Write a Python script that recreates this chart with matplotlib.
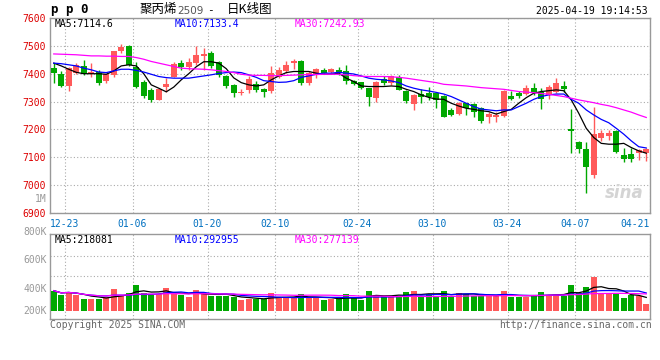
import matplotlib
matplotlib.use('Agg')
import matplotlib.pyplot as plt
import numpy as np
import pandas as pd

# ---- data (pp0, daily K) ----
opens = [7422, 7399, 7356, 7404, 7428, 7398, 7407, 7375, 7396, 7480,
         7501, 7425, 7371, 7342, 7306, 7353, 7390, 7440, 7425, 7438,
         7464, 7476, 7443, 7392, 7360, 7330, 7342, 7363, 7344, 7339,
         7390, 7410, 7440, 7447, 7366, 7396, 7414, 7406, 7414, 7408,
         7374, 7371, 7348, 7314, 7380, 7368, 7387, 7338, 7291, 7326,
         7332, 7332, 7320, 7270, 7255, 7294, 7290, 7276, 7243, 7245,
         7248, 7320, 7330, 7326, 7348, 7336, 7324, 7336, 7356, 7200,
         7156, 7128, 7036, 7171, 7176, 7195, 7108, 7111, 7116, 7117]
highs = [7440, 7408, 7425, 7438, 7450, 7438, 7414, 7400, 7483, 7507,
         7504, 7443, 7378, 7349, 7346, 7384, 7442, 7450, 7456, 7498,
         7493, 7480, 7446, 7394, 7363, 7345, 7392, 7375, 7350, 7428,
         7424, 7446, 7454, 7449, 7408, 7422, 7422, 7422, 7424, 7432,
         7378, 7372, 7350, 7375, 7392, 7395, 7395, 7340, 7326, 7344,
         7354, 7336, 7324, 7276, 7300, 7296, 7294, 7282, 7264, 7264,
         7340, 7339, 7339, 7360, 7368, 7348, 7360, 7384, 7375, 7272,
         7158, 7156, 7279, 7198, 7198, 7198, 7135, 7135, 7128, 7135]
lows = [7368, 7351, 7339, 7400, 7396, 7390, 7361, 7368, 7390, 7475,
        7428, 7348, 7312, 7299, 7304, 7335, 7388, 7413, 7414, 7432,
        7414, 7421, 7390, 7349, 7318, 7325, 7330, 7335, 7318, 7332,
        7385, 7404, 7418, 7360, 7360, 7386, 7398, 7404, 7396, 7364,
        7360, 7346, 7284, 7297, 7360, 7360, 7340, 7296, 7270, 7296,
        7306, 7278, 7243, 7248, 7252, 7252, 7243, 7224, 7222, 7228,
        7246, 7306, 7312, 7324, 7324, 7273, 7309, 7332, 7336, 7114,
        7116, 6972, 7027, 7159, 7162, 7114, 7084, 7084, 7090, 7087]
closes = [7404, 7356, 7422, 7432, 7399, 7407, 7368, 7398, 7480, 7495,
          7432, 7353, 7320, 7306, 7344, 7363, 7435, 7423, 7443, 7468,
          7471, 7428, 7396, 7356, 7332, 7336, 7380, 7342, 7336, 7404,
          7414, 7432, 7447, 7366, 7402, 7416, 7404, 7416, 7404, 7375,
          7363, 7348, 7318, 7371, 7368, 7392, 7342, 7302, 7324, 7318,
          7318, 7306, 7246, 7252, 7294, 7276, 7264, 7230, 7255, 7252,
          7338, 7309, 7320, 7350, 7333, 7309, 7354, 7366, 7344, 7195,
          7128, 7066, 7183, 7188, 7188, 7120, 7093, 7093, 7126, 7128]

ma5 = [7438, 7428, 7416, 7405, 7400, 7400, 7400, 7398, 7410, 7428,
       7432, 7428, 7400, 7360, 7348, 7335, 7352, 7378, 7400, 7425,
       7443, 7443, 7438, 7418, 7385, 7368, 7360, 7356, 7360, 7378,
       7392, 7404, 7408, 7408, 7408, 7402, 7398, 7398, 7402, 7384,
       7372, 7356, 7354, 7354, 7354, 7356, 7354, 7344, 7336, 7324,
       7315, 7309, 7308, 7294, 7284, 7276, 7272, 7267, 7264, 7255,
       7264, 7272, 7294, 7314, 7330, 7336, 7339, 7342, 7339, 7306,
       7258, 7204, 7171, 7150, 7147, 7147, 7150, 7135, 7123, 7114.6]
ma10 = [7438, 7436, 7432, 7428, 7420, 7414, 7406, 7404, 7410, 7416,
        7416, 7412, 7406, 7398, 7390, 7386, 7384, 7384, 7384, 7388,
        7392, 7396, 7401, 7404, 7406, 7404, 7396, 7387, 7375, 7372,
        7369, 7370, 7375, 7387, 7392, 7398, 7402, 7402, 7405, 7402,
        7399, 7392, 7384, 7380, 7378, 7374, 7368, 7356, 7348, 7342,
        7338, 7333, 7327, 7318, 7306, 7294, 7282, 7273, 7270, 7267,
        7270, 7270, 7282, 7294, 7308, 7318, 7324, 7327, 7327, 7308,
        7294, 7270, 7252, 7236, 7224, 7204, 7183, 7159, 7138, 7133.4]
ma30 = [7471, 7470, 7469, 7468, 7466, 7464, 7464, 7463, 7463, 7462,
        7462, 7458, 7452, 7444, 7438, 7432, 7426, 7420, 7418, 7417,
        7416, 7414, 7411, 7408, 7404, 7398, 7395, 7394, 7394, 7393,
        7393, 7394, 7395, 7396, 7397, 7397, 7398, 7398, 7398, 7396,
        7393, 7391, 7390, 7390, 7390, 7389, 7387, 7384, 7380, 7376,
        7372, 7368, 7362, 7360, 7358, 7356, 7353, 7350, 7348, 7346,
        7344, 7340, 7336, 7334, 7332, 7329, 7326, 7322, 7318, 7312,
        7306, 7301, 7296, 7290, 7285, 7278, 7270, 7262, 7252, 7242.93]

volumes = [335, 264, 318, 264, 193, 193, 193, 226, 363, 264,
           302, 429, 302, 264, 280, 385, 280, 264, 226, 346,
           297, 247, 247, 247, 236, 181, 198, 193, 198, 302,
           226, 214, 214, 280, 231, 214, 181, 193, 193, 280,
           226, 181, 335, 264, 247, 226, 236, 318, 335, 247,
           280, 236, 335, 247, 302, 280, 247, 247, 247, 247,
           335, 226, 226, 226, 264, 318, 264, 264, 247, 429,
           302, 402, 566, 302, 280, 280, 220, 264, 247, 110]  # thousands

tick_idx = [2, 11, 21, 30, 41, 51, 61, 70, 80]
tick_lbl = ['12-23', '01-06', '01-20', '02-10', '02-24',
            '03-10', '03-24', '04-07', '04-21']
price_ticks = [7600, 7500, 7400, 7300, 7200, 7100, 7000, 6900]

RED = '#ff5a5a'
GREEN = '#00a800'
GRID = '#aaaaaa'
MONO = 'DejaVu Sans Mono'
CJK = ['Noto Sans CJK SC', 'DejaVu Sans']

plt.rcParams['font.family'] = [MONO, 'Noto Sans CJK SC']

W, H = 660, 360
fig = plt.figure(figsize=(6.6, 3.6), dpi=100)


def box(l, t, r, b):
    return [l / W, 1 - b / H, (r - l) / W, (b - t) / H]


ax = fig.add_axes(box(50, 18, 650, 213))
axv = fig.add_axes(box(50, 234, 650, 319))

n = len(closes)
x = np.arange(n) + 0.5
o = np.array(opens, float)
c = np.array(closes, float)
up = c >= o
cols = np.where(up, RED, GREEN)

# candles
ax.vlines(x, lows, highs, colors=cols, lw=1, zorder=2)
body = np.maximum(np.abs(c - o), 2.5)
ax.bar(x, body, bottom=np.minimum(o, c), width=0.8, color=cols,
       linewidth=0, zorder=3)
ax.plot(x, ma5, color='black', lw=0.9, zorder=4)
ax.plot(x, ma10, color='#0000ff', lw=0.9, zorder=4)
ax.plot(x, ma30, color='#ff00ff', lw=0.9, zorder=4)

ax.set_xlim(0, n)
ax.set_ylim(6900, 7600)
ax.set_yticks(price_ticks)
ax.set_yticklabels([str(p) for p in price_ticks], color='#dd0000', fontsize=7)
ax.set_xticks(tick_idx)
ax.set_xticklabels(tick_lbl, color='#0070c0', fontsize=7)
ax.get_xticklabels()[-1].set_horizontalalignment('right')
ax.tick_params(length=0, pad=3)
ax.tick_params(axis='x', pad=4)
ax.grid(True, color=GRID, linestyle=(0, (1, 2)), lw=0.8)
ax.set_axisbelow(True)
for s in ax.spines.values():
    s.set_color('#999999')
    s.set_linewidth(1)
ax.text(-0.005, 6950, '1M', transform=ax.get_yaxis_transform(), ha='right',
        va='center', color='#999999', fontsize=7)
ax.text(0.99, 0.1, 'sina', transform=ax.transAxes, ha='right', va='center',
        color='#d4d4d4', fontsize=12, fontstyle='italic', fontweight='bold',
        family='DejaVu Sans', zorder=1)

# legend rows
def legend_row(a, items, y):
    for px, txt, col in items:
        a.text((px - 50) / 600, y, txt, transform=a.transAxes, color=col,
               fontsize=7, va='center', ha='left')

legend_row(ax, [(55, 'MA5:7114.6', 'black'), (175, 'MA10:7133.4', '#0000ff'),
                (295, 'MA30:7242.93', '#ff00ff')], 1 - 6 / 195)

# volume panel
v = np.array(volumes) * 1000.0
axv.bar(x, v, width=0.8, color=cols, linewidth=0, zorder=3)
vs = pd.Series(v)
axv.plot(x, vs.rolling(5, min_periods=1).mean(), color='black', lw=0.9, zorder=4)
axv.plot(x, vs.rolling(10, min_periods=1).mean(), color='#0000ff', lw=0.9, zorder=4)
axv.plot(x, vs.rolling(30, min_periods=1).mean(), color='#ff00ff', lw=0.9, zorder=4)
axv.set_xlim(0, n)
axv.set_ylim(-132000, 1270000)
axv.set_xticks(tick_idx)
axv.set_xticklabels([])
axv.set_yticks([907000, 577000])
axv.set_yticklabels([])
axv.tick_params(length=0)
axv.grid(True, color=GRID, linestyle=(0, (1, 2)), lw=0.8)
axv.set_axisbelow(True)
for s in axv.spines.values():
    s.set_color('#999999')
    s.set_linewidth(1)
for lbl, py in [('800K', 232), ('600K', 260), ('400K', 289), ('200K', 311)]:
    fig.text(47 / W, 1 - py / H, lbl, ha='right', va='center',
             color='#999999', fontsize=7)
legend_row(axv, [(55, 'MA5:218081', 'black'), (175, 'MA10:292955', '#0000ff'),
                 (295, 'MA30:277139', '#ff00ff')], 1 - 6 / 85)

# header and footer
fig.text(51 / W, 1 - 10 / H, 'p p 0', fontsize=9, fontweight='bold',
         va='center', ha='left')
fig.text(140 / W, 1 - 10 / H, '聚丙烯', family=CJK, fontsize=9, va='center')
fig.text(177 / W, 1 - 10.5 / H, '2509', family='DejaVu Sans', fontsize=7.5,
         color='#555555', va='center')
fig.text(207 / W, 1 - 10 / H, '-', fontsize=8, va='center')
fig.text(227 / W, 1 - 10 / H, '日K线图', family=CJK, fontsize=9, va='center')
fig.text(648 / W, 1 - 11 / H, '2025-04-19 19:14:53', fontsize=7,
         ha='right', va='center')
fig.text(50 / W, 1 - 325 / H, 'Copyright 2025 SINA.COM', fontsize=7,
         color='#666666', va='center')
fig.text(652 / W, 1 - 325 / H, 'http://finance.sina.com.cn', fontsize=7,
         color='#666666', ha='right', va='center')

fig.savefig('out.png', dpi=100, facecolor='white')
